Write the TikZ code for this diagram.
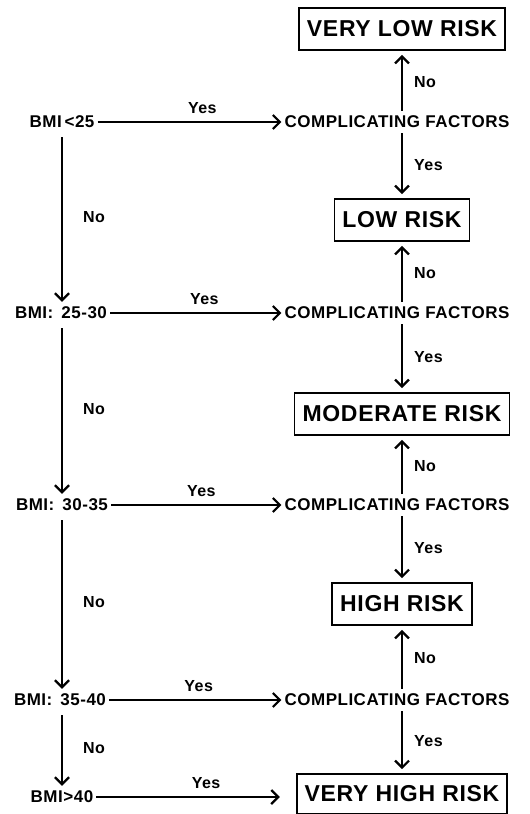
\documentclass[tikz,border=0pt]{standalone}
\usepackage{fontspec}
\setmainfont{Liberation Sans}[LetterSpace=3]
\usetikzlibrary{arrows.meta}

\begin{document}
\begin{tikzpicture}[x=1pt, y=-1pt, every node/.style={font=\bfseries\fontsize{17}{19}\selectfont},
  bmi/.style={inner sep=3pt},
  cf/.style={inner sep=3pt},
  risk/.style={draw, line width=1.8pt, minimum height=42pt, inner xsep=8pt, font=\bfseries\fontsize{23}{26}\selectfont},
  flow/.style={line width=1.7pt, -{Straight Barb[length=7pt, width=14pt, line width=2.2pt]}},
  ans/.style={font=\bfseries\fontsize{16}{18}\selectfont}]
  \useasboundingbox (0,0) rectangle (530,814);
  \node[risk] (vlow) at (402,29) {VERY LOW RISK};
  \node[risk] (low) at (402,220) {LOW RISK};
  \node[risk] (mod) at (402,414) {MODERATE RISK};
  \node[risk] (high) at (402,604) {HIGH RISK};
  \node[risk, minimum height=40pt] (vhigh) at (402,794) {VERY HIGH RISK};
  \node[bmi] (b1) at (62,122) {BMI\,<25};
  \node[bmi] (b2) at (61,313) {BMI:\, 25-30};
  \node[bmi] (b3) at (62,505) {BMI:\, 30-35};
  \node[bmi] (b4) at (60,700) {BMI:\, 35-40};
  \node[bmi] (b5) at (62,797) {BMI>40};
  \node[cf] (c1) at (397,122) {COMPLICATING FACTORS};
  \node[cf] (c2) at (397,313) {COMPLICATING FACTORS};
  \node[cf] (c3) at (397,505) {COMPLICATING FACTORS};
  \node[cf] (c4) at (397,700) {COMPLICATING FACTORS};
  \draw[flow] (b1) -- (c1) node[ans, pos=0.57, above=4pt] {Yes};
  \draw[flow] (b2) -- (c2) node[ans, pos=0.55, above=4pt] {Yes};
  \draw[flow] (b3) -- (c3) node[ans, pos=0.53, above=4pt] {Yes};
  \draw[flow] (b4) -- (c4) node[ans, pos=0.52, above=4pt] {Yes};
  \draw[flow, shorten >=16pt] (b5.east) -- (b5.east -| vhigh.west) node[ans, pos=0.55, above=4pt] {Yes};
  \draw[flow, shorten <=6pt, shorten >=2pt] (b1.south -| 62,0) -- (b2.north -| 62,0) node[ans, midway, right=17pt] {No};
  \draw[flow, shorten <=6pt, shorten >=2pt] (b2.south -| 62,0) -- (b3.north -| 62,0) node[ans, midway, right=17pt] {No};
  \draw[flow, shorten <=6pt, shorten >=2pt] (b3.south -| 62,0) -- (b4.north -| 62,0) node[ans, midway, right=17pt] {No};
  \draw[flow, shorten <=6pt, shorten >=2pt] (b4.south -| 62,0) -- (b5.north -| 62,0) node[ans, midway, right=17pt] {No};
  \draw[flow, shorten <=2pt, shorten >=4pt] (c1.north -| vlow) -- (vlow) node[ans, midway, right=8pt] {No};
  \draw[flow, shorten <=2pt, shorten >=4pt] (c1.south -| low) -- (low) node[ans, midway, right=8pt] {Yes};
  \draw[flow, shorten <=2pt, shorten >=4pt] (c2.north -| low) -- (low) node[ans, midway, right=8pt] {No};
  \draw[flow, shorten <=2pt, shorten >=4pt] (c2.south -| mod) -- (mod) node[ans, midway, right=8pt] {Yes};
  \draw[flow, shorten <=2pt, shorten >=4pt] (c3.north -| mod) -- (mod) node[ans, midway, right=8pt] {No};
  \draw[flow, shorten <=2pt, shorten >=4pt] (c3.south -| high) -- (high) node[ans, midway, right=8pt] {Yes};
  \draw[flow, shorten <=2pt, shorten >=4pt] (c4.north -| high) -- (high) node[ans, midway, right=8pt] {No};
  \draw[flow, shorten <=2pt, shorten >=4pt] (c4.south -| vhigh) -- (vhigh) node[ans, midway, right=8pt] {Yes};
\end{tikzpicture}
\end{document}
